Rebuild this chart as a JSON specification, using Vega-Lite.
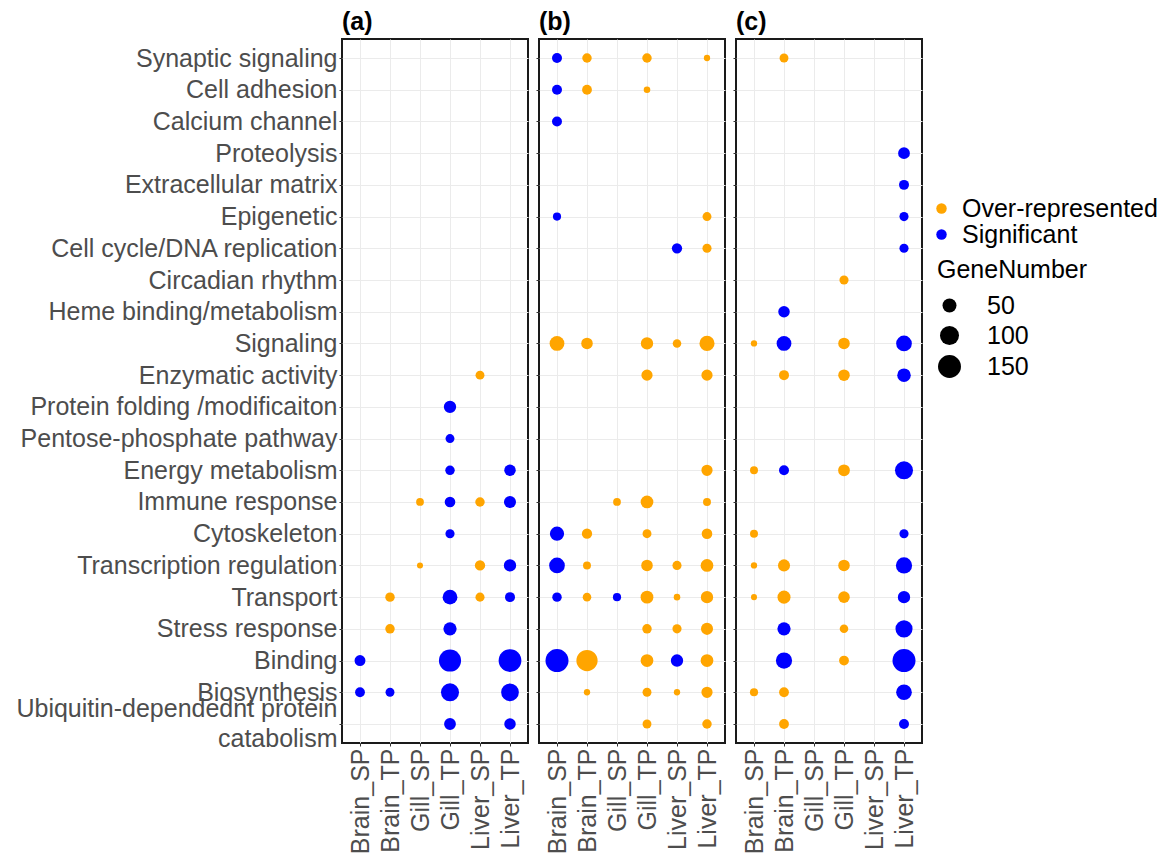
{
  "$schema": "https://vega.github.io/schema/vega-lite/v6.json",
  "padding": {"left": 14, "top": 9, "right": 5, "bottom": 0},
  "background": "white",
  "config": {
    "font": "Liberation Sans",
    "view": {"stroke": "#1a1a1a", "strokeWidth": 2},
    "title": {"fontSize": 25, "fontWeight": "bold", "anchor": "start", "frame": "group", "color": "black", "offset": 4, "font": "Liberation Sans"},
    "axis": {
      "labelFont": "Liberation Sans", "labelFontSize": 25, "labelColor": "#4D4D4D", "labelLimit": 0,
      "tickColor": "#333333", "tickSize": 3, "tickWidth": 1, "domain": false,
      "grid": true, "gridColor": "#EBEBEB", "gridWidth": 1, "title": null, "labelPadding": 2
    },
    "legend": {"labelFont": "Liberation Sans", "titleFont": "Liberation Sans", "labelFontSize": 25, "labelColor": "black", "titleFontSize": 25, "titleFontWeight": "normal", "titleColor": "black", "padding": 0, "labelLimit": 0, "titleLimit": 0}
  },
  "data": {"values": [
    {"p":"a","t":"Enzymatic activity","x":"Liver_SP","g":"Over-represented","n":15},
    {"p":"a","t":"Protein folding /modificaiton","x":"Gill_TP","g":"Significant","n":37},
    {"p":"a","t":"Pentose-phosphate pathway","x":"Gill_TP","g":"Significant","n":15},
    {"p":"a","t":"Energy metabolism","x":"Gill_TP","g":"Significant","n":18},
    {"p":"a","t":"Energy metabolism","x":"Liver_TP","g":"Significant","n":31},
    {"p":"a","t":"Immune response","x":"Gill_SP","g":"Over-represented","n":9},
    {"p":"a","t":"Immune response","x":"Gill_TP","g":"Significant","n":25},
    {"p":"a","t":"Immune response","x":"Liver_SP","g":"Over-represented","n":18},
    {"p":"a","t":"Immune response","x":"Liver_TP","g":"Significant","n":35},
    {"p":"a","t":"Cytoskeleton","x":"Gill_TP","g":"Significant","n":16},
    {"p":"a","t":"Transcription regulation","x":"Gill_SP","g":"Over-represented","n":2},
    {"p":"a","t":"Transcription regulation","x":"Liver_SP","g":"Over-represented","n":23},
    {"p":"a","t":"Transcription regulation","x":"Liver_TP","g":"Significant","n":37},
    {"p":"a","t":"Transport","x":"Brain_TP","g":"Over-represented","n":18},
    {"p":"a","t":"Transport","x":"Gill_TP","g":"Significant","n":57},
    {"p":"a","t":"Transport","x":"Liver_SP","g":"Over-represented","n":16},
    {"p":"a","t":"Transport","x":"Liver_TP","g":"Significant","n":21},
    {"p":"a","t":"Stress response","x":"Brain_TP","g":"Over-represented","n":18},
    {"p":"a","t":"Stress response","x":"Gill_TP","g":"Significant","n":44},
    {"p":"a","t":"Binding","x":"Brain_SP","g":"Significant","n":27},
    {"p":"a","t":"Binding","x":"Gill_TP","g":"Significant","n":139},
    {"p":"a","t":"Binding","x":"Liver_TP","g":"Significant","n":147},
    {"p":"a","t":"Biosynthesis","x":"Brain_SP","g":"Significant","n":20},
    {"p":"a","t":"Biosynthesis","x":"Brain_TP","g":"Significant","n":15},
    {"p":"a","t":"Biosynthesis","x":"Gill_TP","g":"Significant","n":89},
    {"p":"a","t":"Biosynthesis","x":"Liver_TP","g":"Significant","n":86},
    {"p":"a","t":"Ubiquitin-dependednt protein catabolism","x":"Gill_TP","g":"Significant","n":33},
    {"p":"a","t":"Ubiquitin-dependednt protein catabolism","x":"Liver_TP","g":"Significant","n":31},

    {"p":"b","t":"Synaptic signaling","x":"Brain_SP","g":"Significant","n":21},
    {"p":"b","t":"Synaptic signaling","x":"Brain_TP","g":"Over-represented","n":18},
    {"p":"b","t":"Synaptic signaling","x":"Gill_TP","g":"Over-represented","n":18},
    {"p":"b","t":"Synaptic signaling","x":"Liver_TP","g":"Over-represented","n":3},
    {"p":"b","t":"Cell adhesion","x":"Brain_SP","g":"Significant","n":21},
    {"p":"b","t":"Cell adhesion","x":"Brain_TP","g":"Over-represented","n":20},
    {"p":"b","t":"Cell adhesion","x":"Gill_TP","g":"Over-represented","n":4},
    {"p":"b","t":"Calcium channel","x":"Brain_SP","g":"Significant","n":21},
    {"p":"b","t":"Epigenetic","x":"Brain_SP","g":"Significant","n":11},
    {"p":"b","t":"Epigenetic","x":"Liver_TP","g":"Over-represented","n":15},
    {"p":"b","t":"Cell cycle/DNA replication","x":"Liver_SP","g":"Significant","n":23},
    {"p":"b","t":"Cell cycle/DNA replication","x":"Liver_TP","g":"Over-represented","n":16},
    {"p":"b","t":"Signaling","x":"Brain_SP","g":"Over-represented","n":57},
    {"p":"b","t":"Signaling","x":"Brain_TP","g":"Over-represented","n":31},
    {"p":"b","t":"Signaling","x":"Gill_TP","g":"Over-represented","n":37},
    {"p":"b","t":"Signaling","x":"Liver_SP","g":"Over-represented","n":13},
    {"p":"b","t":"Signaling","x":"Liver_TP","g":"Over-represented","n":60},
    {"p":"b","t":"Enzymatic activity","x":"Gill_TP","g":"Over-represented","n":29},
    {"p":"b","t":"Enzymatic activity","x":"Liver_TP","g":"Over-represented","n":29},
    {"p":"b","t":"Energy metabolism","x":"Liver_TP","g":"Over-represented","n":29},
    {"p":"b","t":"Immune response","x":"Gill_SP","g":"Over-represented","n":9},
    {"p":"b","t":"Immune response","x":"Gill_TP","g":"Over-represented","n":40},
    {"p":"b","t":"Immune response","x":"Liver_TP","g":"Over-represented","n":10},
    {"p":"b","t":"Cytoskeleton","x":"Brain_SP","g":"Significant","n":52},
    {"p":"b","t":"Cytoskeleton","x":"Brain_TP","g":"Over-represented","n":23},
    {"p":"b","t":"Cytoskeleton","x":"Gill_TP","g":"Over-represented","n":15},
    {"p":"b","t":"Cytoskeleton","x":"Liver_TP","g":"Over-represented","n":25},
    {"p":"b","t":"Transcription regulation","x":"Brain_SP","g":"Significant","n":65},
    {"p":"b","t":"Transcription regulation","x":"Brain_TP","g":"Over-represented","n":10},
    {"p":"b","t":"Transcription regulation","x":"Gill_TP","g":"Over-represented","n":31},
    {"p":"b","t":"Transcription regulation","x":"Liver_SP","g":"Over-represented","n":16},
    {"p":"b","t":"Transcription regulation","x":"Liver_TP","g":"Over-represented","n":40},
    {"p":"b","t":"Transport","x":"Brain_SP","g":"Significant","n":18},
    {"p":"b","t":"Transport","x":"Brain_TP","g":"Over-represented","n":13},
    {"p":"b","t":"Transport","x":"Gill_SP","g":"Significant","n":11},
    {"p":"b","t":"Transport","x":"Gill_TP","g":"Over-represented","n":40},
    {"p":"b","t":"Transport","x":"Liver_SP","g":"Over-represented","n":4},
    {"p":"b","t":"Transport","x":"Liver_TP","g":"Over-represented","n":37},
    {"p":"b","t":"Stress response","x":"Gill_TP","g":"Over-represented","n":18},
    {"p":"b","t":"Stress response","x":"Liver_SP","g":"Over-represented","n":16},
    {"p":"b","t":"Stress response","x":"Liver_TP","g":"Over-represented","n":35},
    {"p":"b","t":"Binding","x":"Brain_SP","g":"Significant","n":151},
    {"p":"b","t":"Binding","x":"Brain_TP","g":"Over-represented","n":127},
    {"p":"b","t":"Binding","x":"Gill_TP","g":"Over-represented","n":40},
    {"p":"b","t":"Binding","x":"Liver_SP","g":"Significant","n":37},
    {"p":"b","t":"Binding","x":"Liver_TP","g":"Over-represented","n":40},
    {"p":"b","t":"Biosynthesis","x":"Brain_TP","g":"Over-represented","n":3},
    {"p":"b","t":"Biosynthesis","x":"Gill_TP","g":"Over-represented","n":15},
    {"p":"b","t":"Biosynthesis","x":"Liver_SP","g":"Over-represented","n":3},
    {"p":"b","t":"Biosynthesis","x":"Liver_TP","g":"Over-represented","n":29},
    {"p":"b","t":"Ubiquitin-dependednt protein catabolism","x":"Gill_TP","g":"Over-represented","n":15},
    {"p":"b","t":"Ubiquitin-dependednt protein catabolism","x":"Liver_TP","g":"Over-represented","n":18},

    {"p":"c","t":"Synaptic signaling","x":"Brain_TP","g":"Over-represented","n":15},
    {"p":"c","t":"Proteolysis","x":"Liver_TP","g":"Significant","n":33},
    {"p":"c","t":"Extracellular matrix","x":"Liver_TP","g":"Significant","n":21},
    {"p":"c","t":"Epigenetic","x":"Liver_TP","g":"Significant","n":16},
    {"p":"c","t":"Cell cycle/DNA replication","x":"Liver_TP","g":"Significant","n":16},
    {"p":"c","t":"Circadian rhythm","x":"Gill_TP","g":"Over-represented","n":16},
    {"p":"c","t":"Heme binding/metabolism","x":"Brain_TP","g":"Significant","n":31},
    {"p":"c","t":"Signaling","x":"Brain_SP","g":"Over-represented","n":3},
    {"p":"c","t":"Signaling","x":"Brain_TP","g":"Significant","n":57},
    {"p":"c","t":"Signaling","x":"Gill_TP","g":"Over-represented","n":31},
    {"p":"c","t":"Signaling","x":"Liver_TP","g":"Significant","n":65},
    {"p":"c","t":"Enzymatic activity","x":"Brain_TP","g":"Over-represented","n":21},
    {"p":"c","t":"Enzymatic activity","x":"Gill_TP","g":"Over-represented","n":31},
    {"p":"c","t":"Enzymatic activity","x":"Liver_TP","g":"Significant","n":46},
    {"p":"c","t":"Energy metabolism","x":"Brain_SP","g":"Over-represented","n":10},
    {"p":"c","t":"Energy metabolism","x":"Brain_TP","g":"Significant","n":21},
    {"p":"c","t":"Energy metabolism","x":"Gill_TP","g":"Over-represented","n":33},
    {"p":"c","t":"Energy metabolism","x":"Liver_TP","g":"Significant","n":89},
    {"p":"c","t":"Cytoskeleton","x":"Brain_SP","g":"Over-represented","n":10},
    {"p":"c","t":"Cytoskeleton","x":"Liver_TP","g":"Significant","n":16},
    {"p":"c","t":"Transcription regulation","x":"Brain_SP","g":"Over-represented","n":3},
    {"p":"c","t":"Transcription regulation","x":"Brain_TP","g":"Over-represented","n":35},
    {"p":"c","t":"Transcription regulation","x":"Gill_TP","g":"Over-represented","n":31},
    {"p":"c","t":"Transcription regulation","x":"Liver_TP","g":"Significant","n":70},
    {"p":"c","t":"Transport","x":"Brain_SP","g":"Over-represented","n":2},
    {"p":"c","t":"Transport","x":"Brain_TP","g":"Over-represented","n":42},
    {"p":"c","t":"Transport","x":"Gill_TP","g":"Over-represented","n":31},
    {"p":"c","t":"Transport","x":"Liver_TP","g":"Significant","n":37},
    {"p":"c","t":"Stress response","x":"Brain_TP","g":"Significant","n":44},
    {"p":"c","t":"Stress response","x":"Gill_TP","g":"Over-represented","n":13},
    {"p":"c","t":"Stress response","x":"Liver_TP","g":"Significant","n":79},
    {"p":"c","t":"Binding","x":"Brain_TP","g":"Significant","n":70},
    {"p":"c","t":"Binding","x":"Gill_TP","g":"Over-represented","n":20},
    {"p":"c","t":"Binding","x":"Liver_TP","g":"Significant","n":151},
    {"p":"c","t":"Biosynthesis","x":"Brain_SP","g":"Over-represented","n":11},
    {"p":"c","t":"Biosynthesis","x":"Brain_TP","g":"Over-represented","n":20},
    {"p":"c","t":"Biosynthesis","x":"Liver_TP","g":"Significant","n":65},
    {"p":"c","t":"Ubiquitin-dependednt protein catabolism","x":"Brain_TP","g":"Over-represented","n":20},
    {"p":"c","t":"Ubiquitin-dependednt protein catabolism","x":"Liver_TP","g":"Significant","n":21}
  ]},
  "spacing": 5,
  "resolve": {"scale": {"color": "shared", "size": "shared"}, "legend": {"color": "shared", "size": "shared"}},
  "hconcat": [
    {
      "title": "(a)",
      "width": 186, "height": 704,
      "transform": [{"filter": "datum.p == 'a'"}],
      "mark": {"type": "circle", "opacity": 1},
      "encoding": {
        "x": {"field": "x", "type": "nominal", "scale": {"type": "point", "padding": 0.6, "domain": ["Brain_SP","Brain_TP","Gill_SP","Gill_TP","Liver_SP","Liver_TP"]}, "axis": {"labelAngle": 270}},
        "y": {"field": "t", "type": "nominal", "scale": {"type": "point", "padding": 0.6, "domain": ["Synaptic signaling","Cell adhesion","Calcium channel","Proteolysis","Extracellular matrix","Epigenetic","Cell cycle/DNA replication","Circadian rhythm","Heme binding/metabolism","Signaling","Enzymatic activity","Protein folding /modificaiton","Pentose-phosphate pathway","Energy metabolism","Immune response","Cytoskeleton","Transcription regulation","Transport","Stress response","Binding","Biosynthesis","Ubiquitin-dependednt protein catabolism"]},
          "axis": {"labelLineHeight": 30, "labelOffset": {"condition": {"test": "datum.value == 'Ubiquitin-dependednt protein catabolism'", "value": -15}, "value": 0}, "labelExpr": "datum.label == 'Ubiquitin-dependednt protein catabolism' ? ['Ubiquitin-dependednt protein', 'catabolism'] : datum.label"}},
        "color": {"field": "g", "type": "nominal", "scale": {"domain": ["Over-represented","Significant"], "range": ["#FFA500","#0000FF"]},
          "legend": {"title": null, "orient": "none", "legendX": 587, "legendY": 157, "symbolSize": 110, "symbolType": "circle", "rowPadding": 0, "labelOffset": 8, "symbolOpacity": 1}},
        "size": {"field": "n", "type": "quantitative", "scale": {"domain": [0, 160], "range": [30, 560]},
          "legend": {"title": "GeneNumber", "values": [50, 100, 150], "orient": "none", "legendX": 595, "legendY": 219, "symbolFillColor": "black", "symbolStrokeColor": "black", "symbolOpacity": 1, "labelOffset": 25, "titlePadding": 10, "rowPadding": 3}}
      }
    },
    {
      "title": "(b)",
      "width": 186, "height": 704,
      "transform": [{"filter": "datum.p == 'b'"}],
      "mark": {"type": "circle", "opacity": 1},
      "encoding": {
        "x": {"field": "x", "type": "nominal", "scale": {"type": "point", "padding": 0.6, "domain": ["Brain_SP","Brain_TP","Gill_SP","Gill_TP","Liver_SP","Liver_TP"]}, "axis": {"labelAngle": 270}},
        "y": {"field": "t", "type": "nominal", "scale": {"type": "point", "padding": 0.6, "domain": ["Synaptic signaling","Cell adhesion","Calcium channel","Proteolysis","Extracellular matrix","Epigenetic","Cell cycle/DNA replication","Circadian rhythm","Heme binding/metabolism","Signaling","Enzymatic activity","Protein folding /modificaiton","Pentose-phosphate pathway","Energy metabolism","Immune response","Cytoskeleton","Transcription regulation","Transport","Stress response","Binding","Biosynthesis","Ubiquitin-dependednt protein catabolism"]},
          "axis": {"labels": false}},
        "color": {"field": "g", "type": "nominal", "scale": {"domain": ["Over-represented","Significant"], "range": ["#FFA500","#0000FF"]}},
        "size": {"field": "n", "type": "quantitative", "scale": {"domain": [0, 160], "range": [30, 560]}}
      }
    },
    {
      "title": "(c)",
      "width": 186, "height": 704,
      "transform": [{"filter": "datum.p == 'c'"}],
      "mark": {"type": "circle", "opacity": 1},
      "encoding": {
        "x": {"field": "x", "type": "nominal", "scale": {"type": "point", "padding": 0.6, "domain": ["Brain_SP","Brain_TP","Gill_SP","Gill_TP","Liver_SP","Liver_TP"]}, "axis": {"labelAngle": 270}},
        "y": {"field": "t", "type": "nominal", "scale": {"type": "point", "padding": 0.6, "domain": ["Synaptic signaling","Cell adhesion","Calcium channel","Proteolysis","Extracellular matrix","Epigenetic","Cell cycle/DNA replication","Circadian rhythm","Heme binding/metabolism","Signaling","Enzymatic activity","Protein folding /modificaiton","Pentose-phosphate pathway","Energy metabolism","Immune response","Cytoskeleton","Transcription regulation","Transport","Stress response","Binding","Biosynthesis","Ubiquitin-dependednt protein catabolism"]},
          "axis": {"labels": false}},
        "color": {"field": "g", "type": "nominal", "scale": {"domain": ["Over-represented","Significant"], "range": ["#FFA500","#0000FF"]}},
        "size": {"field": "n", "type": "quantitative", "scale": {"domain": [0, 160], "range": [30, 560]}}
      }
    }
  ]
}
